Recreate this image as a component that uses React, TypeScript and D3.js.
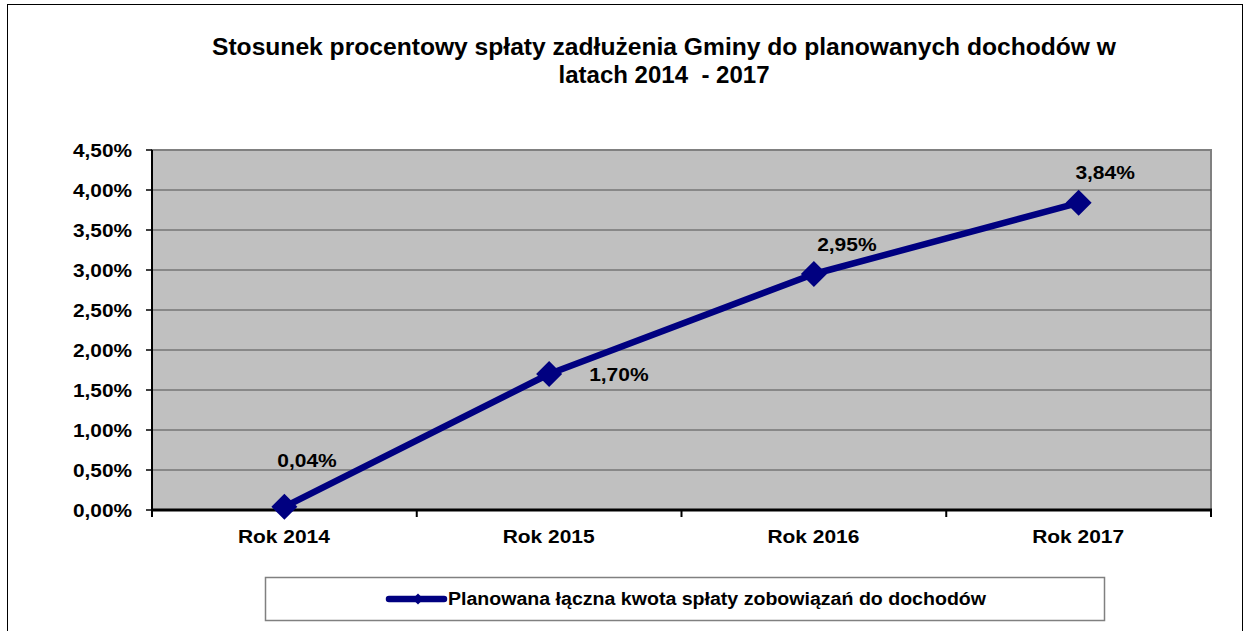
import React from "react";
import * as d3 from "d3";

const categories = ["Rok 2014", "Rok 2015", "Rok 2016", "Rok 2017"];
const values = [0.04, 1.7, 2.95, 3.84];
const valueLabels = ["0,04%", "1,70%", "2,95%", "3,84%"];
const yTicks = [0, 0.5, 1, 1.5, 2, 2.5, 3, 3.5, 4, 4.5];
const seriesName = "Planowana łączna kwota spłaty zobowiązań do dochodów";
const titleLines = [
  "Stosunek procentowy spłaty zadłużenia Gminy do planowanych dochodów w",
  "latach 2014  - 2017",
];

const W = 1244;
const H = 631;
const left = 152, right = 1211, top = 150, bottom = 510;
const font = "Arial, 'Liberation Sans', sans-serif";

export default function App() {
  const x = d3.scaleBand<string>().domain(categories).range([left, right]);
  const y = d3.scaleLinear().domain([0, 4.5]).range([bottom, top]);
  const cx = (c: string) => (x(c) as number) + x.bandwidth() / 2;
  const line = d3
    .line<number>()
    .x((_, i) => cx(categories[i]))
    .y((d) => y(d));
  const fmt = (v: number) => v.toFixed(2).replace(".", ",") + "%";
  const diamond = (px: number, py: number, r: number) =>
    `M${px},${py - r}L${px + r},${py}L${px},${py + r}L${px - r},${py}Z`;
  const labelPos = [
    { dx: 22.6, dy: -40, anchor: "middle" },
    { dx: 40, dy: 7, anchor: "start" },
    { dx: 33, dy: -23, anchor: "middle" },
    { dx: 26.5, dy: -24, anchor: "middle" },
  ];
  const boundaries = d3.range(categories.length + 1).map((i) => left + i * x.bandwidth());
  const titleLen = [904, 211];

  return (
    <svg
      width={W}
      height={H}
      style={{ position: "absolute", left: 0, top: 0, background: "#fff" }}
      fontFamily={font}
    >
      <rect x={7.5} y={4.5} width={1235} height={640} fill="#fff" stroke="#000" strokeWidth={1} />
      {titleLines.map((t, i) => (
        <text
          key={i}
          x={664}
          y={55 + i * 28}
          textAnchor="middle"
          fontSize={23.5}
          fontWeight="bold"
          fill="#000"
          textLength={titleLen[i]}
          lengthAdjust="spacingAndGlyphs"
          style={{ whiteSpace: "pre" }}
        >
          {t}
        </text>
      ))}
      <rect x={left} y={top} width={right - left} height={bottom - top} fill="#C0C0C0" stroke="#808080" strokeWidth={2} />
      {yTicks.map((t) => (
        <g key={t}>
          {t > 0 && t < 4.5 && (
            <line x1={left} x2={right} y1={y(t)} y2={y(t)} stroke="#505050" strokeWidth={1.2} />
          )}
          <line x1={left - 6} x2={left} y1={y(t)} y2={y(t)} stroke="#000" strokeWidth={1.5} />
          <text
            x={132}
            y={y(t) + 6.5}
            textAnchor="end"
            fontSize={18}
            fontWeight="bold"
            fill="#000"
            textLength={59}
            lengthAdjust="spacingAndGlyphs"
          >
            {fmt(t)}
          </text>
        </g>
      ))}
      <line x1={left} x2={left} y1={top} y2={bottom} stroke="#000" strokeWidth={2} />
      <line x1={left - 1} x2={right + 1} y1={bottom} y2={bottom} stroke="#000" strokeWidth={3} />
      {boundaries.map((b, i) => (
        <line key={i} x1={b} x2={b} y1={bottom} y2={bottom + 7} stroke="#000" strokeWidth={2} />
      ))}
      {categories.map((c) => (
        <text
          key={c}
          x={cx(c) - 0.5}
          y={543}
          textAnchor="middle"
          fontSize={18.5}
          fontWeight="bold"
          fill="#000"
          textLength={92}
          lengthAdjust="spacingAndGlyphs"
        >
          {c}
        </text>
      ))}
      <path d={line(values) || ""} fill="none" stroke="#000080" strokeWidth={6.5} strokeLinejoin="round" />
      {values.map((v, i) => (
        <path key={i} d={diamond(cx(categories[i]), y(v), 13)} fill="#000080" />
      ))}
      {values.map((v, i) => (
        <text
          key={i}
          x={cx(categories[i]) + labelPos[i].dx}
          y={y(v) + labelPos[i].dy}
          textAnchor={labelPos[i].anchor}
          fontSize={18}
          fontWeight="bold"
          fill="#000"
          textLength={59.5}
          lengthAdjust="spacingAndGlyphs"
        >
          {valueLabels[i]}
        </text>
      ))}
      <rect x={265.5} y={577.5} width={839} height={43} fill="#fff" stroke="#808080" strokeWidth={1.5} />
      <line x1={389} x2={444} y1={599} y2={599} stroke="#000080" strokeWidth={6.5} strokeLinecap="round" />
      <path d={diamond(418, 599, 5.5)} fill="#000080" />
      <text
        x={448}
        y={604.5}
        fontSize={18}
        fontWeight="bold"
        fill="#000"
        textLength={538}
        lengthAdjust="spacingAndGlyphs"
      >
        {seriesName}
      </text>
    </svg>
  );
}
